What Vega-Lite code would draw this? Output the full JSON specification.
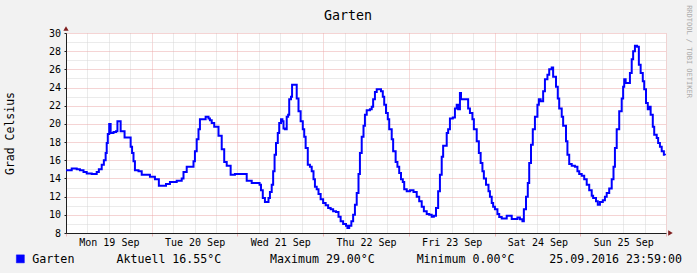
{
  "$schema": "https://vega.github.io/schema/vega-lite/v6.json",
  "width": 600,
  "height": 200,
  "autosize": {"type": "none"},
  "padding": {"left": 66, "top": 33, "right": 31, "bottom": 40},
  "background": "#f2f2f2",
  "view": {"stroke": null, "fill": "#ffffff"},
  "title": {"text": "Garten", "font": "DejaVu Sans Mono", "fontSize": 13.3, "fontWeight": "normal", "color": "#000000", "anchor": "middle", "frame": "group", "dx": -18, "offset": 0, "dy": 28.3, "baseline": "alphabetic"},
  "config": {
    "axis": {"labelFont": "DejaVu Sans Mono", "titleFont": "DejaVu Sans Mono", "labelColor": "#000000", "titleColor": "#000000", "titleFontWeight": "normal", "labelFlush": false, "labelOverlap": false}
  },
  "datasets": {
    "garten": [
      {"time": "2016-09-19T00:00", "temp": 14.9}, {"time": "2016-09-19T01:36", "temp": 15.1}, {"time": "2016-09-19T03:00", "temp": 15.0}, {"time": "2016-09-19T03:54", "temp": 14.9}, {"time": "2016-09-19T04:54", "temp": 14.7}, {"time": "2016-09-19T05:48", "temp": 14.55}, {"time": "2016-09-19T07:12", "temp": 14.5}, {"time": "2016-09-19T08:36", "temp": 14.7}, {"time": "2016-09-19T09:12", "temp": 15.0}, {"time": "2016-09-19T10:00", "temp": 15.5}, {"time": "2016-09-19T10:36", "temp": 16.0}, {"time": "2016-09-19T11:06", "temp": 16.8}, {"time": "2016-09-19T11:24", "temp": 17.9}, {"time": "2016-09-19T11:42", "temp": 18.9}, {"time": "2016-09-19T12:06", "temp": 20.0}, {"time": "2016-09-19T12:30", "temp": 19.0}, {"time": "2016-09-19T13:18", "temp": 19.1}, {"time": "2016-09-19T14:00", "temp": 19.2}, {"time": "2016-09-19T14:24", "temp": 20.3}, {"time": "2016-09-19T15:18", "temp": 19.2}, {"time": "2016-09-19T16:24", "temp": 18.5}, {"time": "2016-09-19T18:06", "temp": 17.5}, {"time": "2016-09-19T18:30", "temp": 16.8}, {"time": "2016-09-19T18:54", "temp": 15.9}, {"time": "2016-09-19T19:18", "temp": 14.9}, {"time": "2016-09-19T20:18", "temp": 14.8}, {"time": "2016-09-19T21:12", "temp": 14.4}, {"time": "2016-09-19T23:30", "temp": 14.2},
      {"time": "2016-09-20T00:54", "temp": 13.9}, {"time": "2016-09-20T02:00", "temp": 13.2}, {"time": "2016-09-20T04:00", "temp": 13.4}, {"time": "2016-09-20T05:06", "temp": 13.6}, {"time": "2016-09-20T07:00", "temp": 13.75}, {"time": "2016-09-20T08:24", "temp": 14.0}, {"time": "2016-09-20T08:54", "temp": 14.7}, {"time": "2016-09-20T09:48", "temp": 15.3}, {"time": "2016-09-20T11:42", "temp": 15.9}, {"time": "2016-09-20T12:06", "temp": 17.0}, {"time": "2016-09-20T12:36", "temp": 18.3}, {"time": "2016-09-20T13:06", "temp": 19.4}, {"time": "2016-09-20T13:30", "temp": 20.5}, {"time": "2016-09-20T15:06", "temp": 20.8}, {"time": "2016-09-20T15:54", "temp": 20.6}, {"time": "2016-09-20T16:18", "temp": 20.4}, {"time": "2016-09-20T16:48", "temp": 20.1}, {"time": "2016-09-20T17:30", "temp": 19.7}, {"time": "2016-09-20T18:42", "temp": 18.7}, {"time": "2016-09-20T19:36", "temp": 17.2}, {"time": "2016-09-20T20:18", "temp": 15.8}, {"time": "2016-09-20T21:00", "temp": 15.4}, {"time": "2016-09-20T22:06", "temp": 14.4}, {"time": "2016-09-20T23:18", "temp": 14.5},
      {"time": "2016-09-21T02:36", "temp": 13.75}, {"time": "2016-09-21T04:00", "temp": 13.5}, {"time": "2016-09-21T06:12", "temp": 13.3}, {"time": "2016-09-21T06:36", "temp": 12.7}, {"time": "2016-09-21T07:06", "temp": 11.85}, {"time": "2016-09-21T07:42", "temp": 11.4}, {"time": "2016-09-21T08:42", "temp": 11.85}, {"time": "2016-09-21T09:06", "temp": 12.5}, {"time": "2016-09-21T09:36", "temp": 13.3}, {"time": "2016-09-21T10:00", "temp": 14.8}, {"time": "2016-09-21T10:24", "temp": 16.6}, {"time": "2016-09-21T10:48", "temp": 17.9}, {"time": "2016-09-21T11:18", "temp": 19.0}, {"time": "2016-09-21T11:42", "temp": 20.1}, {"time": "2016-09-21T12:12", "temp": 20.5}, {"time": "2016-09-21T12:36", "temp": 20.3}, {"time": "2016-09-21T12:54", "temp": 19.5}, {"time": "2016-09-21T13:18", "temp": 19.4}, {"time": "2016-09-21T13:48", "temp": 20.8}, {"time": "2016-09-21T14:12", "temp": 21.0}, {"time": "2016-09-21T14:30", "temp": 22.7}, {"time": "2016-09-21T15:00", "temp": 23.0}, {"time": "2016-09-21T15:18", "temp": 24.3}, {"time": "2016-09-21T16:36", "temp": 22.8}, {"time": "2016-09-21T17:06", "temp": 21.4}, {"time": "2016-09-21T17:42", "temp": 20.3}, {"time": "2016-09-21T18:18", "temp": 19.4}, {"time": "2016-09-21T18:42", "temp": 18.6}, {"time": "2016-09-21T19:06", "temp": 17.35}, {"time": "2016-09-21T19:42", "temp": 15.5}, {"time": "2016-09-21T20:18", "temp": 15.3}, {"time": "2016-09-21T20:48", "temp": 14.8}, {"time": "2016-09-21T21:18", "temp": 13.9}, {"time": "2016-09-21T21:42", "temp": 13.1}, {"time": "2016-09-21T22:12", "temp": 12.8}, {"time": "2016-09-21T22:42", "temp": 12.3}, {"time": "2016-09-21T23:18", "temp": 11.7},
      {"time": "2016-09-22T00:00", "temp": 11.3}, {"time": "2016-09-22T00:42", "temp": 11.05}, {"time": "2016-09-22T01:24", "temp": 10.75}, {"time": "2016-09-22T02:06", "temp": 10.6}, {"time": "2016-09-22T02:48", "temp": 10.4}, {"time": "2016-09-22T03:36", "temp": 10.3}, {"time": "2016-09-22T04:18", "temp": 9.8}, {"time": "2016-09-22T04:54", "temp": 9.3}, {"time": "2016-09-22T05:36", "temp": 9.0}, {"time": "2016-09-22T06:24", "temp": 8.8}, {"time": "2016-09-22T06:48", "temp": 8.55}, {"time": "2016-09-22T07:18", "temp": 8.8}, {"time": "2016-09-22T07:54", "temp": 9.3}, {"time": "2016-09-22T08:24", "temp": 10.0}, {"time": "2016-09-22T08:54", "temp": 11.1}, {"time": "2016-09-22T09:24", "temp": 12.4}, {"time": "2016-09-22T09:54", "temp": 14.5}, {"time": "2016-09-22T10:18", "temp": 16.8}, {"time": "2016-09-22T10:48", "temp": 18.6}, {"time": "2016-09-22T11:18", "temp": 19.8}, {"time": "2016-09-22T11:42", "temp": 21.0}, {"time": "2016-09-22T12:12", "temp": 21.5}, {"time": "2016-09-22T13:06", "temp": 21.6}, {"time": "2016-09-22T13:36", "temp": 21.9}, {"time": "2016-09-22T14:00", "temp": 22.7}, {"time": "2016-09-22T14:30", "temp": 23.5}, {"time": "2016-09-22T15:00", "temp": 23.8}, {"time": "2016-09-22T16:12", "temp": 23.6}, {"time": "2016-09-22T16:42", "temp": 23.0}, {"time": "2016-09-22T17:06", "temp": 22.1}, {"time": "2016-09-22T17:36", "temp": 21.2}, {"time": "2016-09-22T18:06", "temp": 20.5}, {"time": "2016-09-22T18:30", "temp": 19.4}, {"time": "2016-09-22T19:12", "temp": 18.3}, {"time": "2016-09-22T19:36", "temp": 17.0}, {"time": "2016-09-22T20:18", "temp": 15.8}, {"time": "2016-09-22T20:48", "temp": 15.3}, {"time": "2016-09-22T21:18", "temp": 14.6}, {"time": "2016-09-22T21:48", "temp": 13.9}, {"time": "2016-09-22T22:18", "temp": 13.6}, {"time": "2016-09-22T22:42", "temp": 12.8}, {"time": "2016-09-22T23:24", "temp": 12.6},
      {"time": "2016-09-23T00:18", "temp": 12.7}, {"time": "2016-09-23T01:18", "temp": 12.5}, {"time": "2016-09-23T02:12", "temp": 12.0}, {"time": "2016-09-23T02:54", "temp": 11.5}, {"time": "2016-09-23T03:36", "temp": 10.9}, {"time": "2016-09-23T04:12", "temp": 10.4}, {"time": "2016-09-23T05:00", "temp": 10.1}, {"time": "2016-09-23T05:42", "temp": 10.0}, {"time": "2016-09-23T06:24", "temp": 9.8}, {"time": "2016-09-23T07:00", "temp": 9.9}, {"time": "2016-09-23T07:36", "temp": 10.75}, {"time": "2016-09-23T08:12", "temp": 12.6}, {"time": "2016-09-23T08:42", "temp": 14.4}, {"time": "2016-09-23T09:12", "temp": 16.4}, {"time": "2016-09-23T09:36", "temp": 17.6}, {"time": "2016-09-23T10:36", "temp": 19.0}, {"time": "2016-09-23T11:00", "temp": 19.4}, {"time": "2016-09-23T11:30", "temp": 20.6}, {"time": "2016-09-23T12:18", "temp": 20.7}, {"time": "2016-09-23T12:54", "temp": 21.7}, {"time": "2016-09-23T13:24", "temp": 22.1}, {"time": "2016-09-23T13:48", "temp": 21.6}, {"time": "2016-09-23T14:18", "temp": 23.4}, {"time": "2016-09-23T14:36", "temp": 22.7}, {"time": "2016-09-23T16:36", "temp": 21.7}, {"time": "2016-09-23T17:06", "temp": 21.2}, {"time": "2016-09-23T17:48", "temp": 20.5}, {"time": "2016-09-23T18:12", "temp": 19.4}, {"time": "2016-09-23T19:00", "temp": 18.1}, {"time": "2016-09-23T19:36", "temp": 16.8}, {"time": "2016-09-23T20:06", "temp": 15.7}, {"time": "2016-09-23T20:36", "temp": 14.8}, {"time": "2016-09-23T21:00", "temp": 14.0}, {"time": "2016-09-23T21:36", "temp": 13.3}, {"time": "2016-09-23T22:18", "temp": 12.6}, {"time": "2016-09-23T22:42", "temp": 12.0}, {"time": "2016-09-23T23:12", "temp": 11.3}, {"time": "2016-09-23T23:36", "temp": 10.9},
      {"time": "2016-09-24T00:06", "temp": 10.6}, {"time": "2016-09-24T00:48", "temp": 10.1}, {"time": "2016-09-24T01:18", "temp": 9.75}, {"time": "2016-09-24T02:00", "temp": 9.6}, {"time": "2016-09-24T03:24", "temp": 9.9}, {"time": "2016-09-24T04:48", "temp": 9.55}, {"time": "2016-09-24T06:24", "temp": 9.7}, {"time": "2016-09-24T07:06", "temp": 9.5}, {"time": "2016-09-24T07:48", "temp": 9.3}, {"time": "2016-09-24T08:12", "temp": 10.6}, {"time": "2016-09-24T08:48", "temp": 12.0}, {"time": "2016-09-24T09:18", "temp": 13.5}, {"time": "2016-09-24T09:42", "temp": 15.7}, {"time": "2016-09-24T10:12", "temp": 17.7}, {"time": "2016-09-24T10:42", "temp": 19.4}, {"time": "2016-09-24T11:18", "temp": 20.8}, {"time": "2016-09-24T12:00", "temp": 22.1}, {"time": "2016-09-24T12:24", "temp": 22.7}, {"time": "2016-09-24T12:54", "temp": 22.5}, {"time": "2016-09-24T13:36", "temp": 23.6}, {"time": "2016-09-24T14:06", "temp": 24.9}, {"time": "2016-09-24T14:48", "temp": 25.4}, {"time": "2016-09-24T15:18", "temp": 26.0}, {"time": "2016-09-24T16:00", "temp": 26.2}, {"time": "2016-09-24T16:24", "temp": 25.2}, {"time": "2016-09-24T17:12", "temp": 24.1}, {"time": "2016-09-24T17:42", "temp": 22.8}, {"time": "2016-09-24T18:06", "temp": 21.7}, {"time": "2016-09-24T18:48", "temp": 20.8}, {"time": "2016-09-24T19:12", "temp": 19.8}, {"time": "2016-09-24T20:00", "temp": 18.1}, {"time": "2016-09-24T20:24", "temp": 16.6}, {"time": "2016-09-24T20:54", "temp": 15.6}, {"time": "2016-09-24T21:36", "temp": 15.4}, {"time": "2016-09-24T22:30", "temp": 15.3}, {"time": "2016-09-24T23:12", "temp": 14.8}, {"time": "2016-09-24T23:42", "temp": 14.5},
      {"time": "2016-09-25T00:24", "temp": 14.3}, {"time": "2016-09-25T01:06", "temp": 13.9}, {"time": "2016-09-25T01:48", "temp": 13.3}, {"time": "2016-09-25T02:30", "temp": 12.7}, {"time": "2016-09-25T03:12", "temp": 12.1}, {"time": "2016-09-25T03:36", "temp": 11.85}, {"time": "2016-09-25T04:24", "temp": 11.5}, {"time": "2016-09-25T04:54", "temp": 11.1}, {"time": "2016-09-25T05:30", "temp": 11.4}, {"time": "2016-09-25T06:18", "temp": 11.6}, {"time": "2016-09-25T06:54", "temp": 12.0}, {"time": "2016-09-25T07:24", "temp": 12.4}, {"time": "2016-09-25T08:06", "temp": 12.9}, {"time": "2016-09-25T08:48", "temp": 13.9}, {"time": "2016-09-25T09:18", "temp": 15.3}, {"time": "2016-09-25T09:42", "temp": 17.35}, {"time": "2016-09-25T10:12", "temp": 19.4}, {"time": "2016-09-25T10:54", "temp": 21.4}, {"time": "2016-09-25T11:36", "temp": 22.8}, {"time": "2016-09-25T12:00", "temp": 24.1}, {"time": "2016-09-25T12:18", "temp": 24.9}, {"time": "2016-09-25T12:42", "temp": 24.5}, {"time": "2016-09-25T13:54", "temp": 25.6}, {"time": "2016-09-25T14:24", "temp": 27.1}, {"time": "2016-09-25T14:48", "temp": 28.0}, {"time": "2016-09-25T15:18", "temp": 28.6}, {"time": "2016-09-25T15:54", "temp": 28.5}, {"time": "2016-09-25T16:24", "temp": 26.5}, {"time": "2016-09-25T16:54", "temp": 25.6}, {"time": "2016-09-25T17:30", "temp": 24.7}, {"time": "2016-09-25T17:54", "temp": 23.8}, {"time": "2016-09-25T18:24", "temp": 22.3}, {"time": "2016-09-25T18:54", "temp": 21.6}, {"time": "2016-09-25T19:12", "temp": 21.9}, {"time": "2016-09-25T19:42", "temp": 21.0}, {"time": "2016-09-25T20:18", "temp": 19.7}, {"time": "2016-09-25T20:42", "temp": 18.8}, {"time": "2016-09-25T21:24", "temp": 18.45}, {"time": "2016-09-25T21:48", "temp": 17.9}, {"time": "2016-09-25T22:18", "temp": 17.5}, {"time": "2016-09-25T22:48", "temp": 17.0}, {"time": "2016-09-25T23:24", "temp": 16.6}, {"time": "2016-09-25T23:42", "temp": 16.55}
    ],
    "arrows": [
      {"time": "2016-09-19T00:00", "temp": 30.5, "dir": "up"},
      {"time": "2016-09-26T01:15", "temp": 8, "dir": "right"}
    ]
  },
  "layer": [
    {
      "data": {"name": "garten"},
      "mark": {"type": "line", "interpolate": "step-after", "strokeWidth": 2, "color": "#0000ff"},
      "encoding": {
        "x": {
          "field": "time", "type": "temporal",
          "scale": {"domain": [{"year": 2016, "month": 9, "date": 19}, {"year": 2016, "month": 9, "date": 26}], "nice": false},
          "axis": {
            "values": [
              {"year": 2016, "month": 9, "date": 19, "hours": 0}, {"year": 2016, "month": 9, "date": 19, "hours": 6}, {"year": 2016, "month": 9, "date": 19, "hours": 12}, {"year": 2016, "month": 9, "date": 19, "hours": 18},
              {"year": 2016, "month": 9, "date": 20, "hours": 0}, {"year": 2016, "month": 9, "date": 20, "hours": 6}, {"year": 2016, "month": 9, "date": 20, "hours": 12}, {"year": 2016, "month": 9, "date": 20, "hours": 18},
              {"year": 2016, "month": 9, "date": 21, "hours": 0}, {"year": 2016, "month": 9, "date": 21, "hours": 6}, {"year": 2016, "month": 9, "date": 21, "hours": 12}, {"year": 2016, "month": 9, "date": 21, "hours": 18},
              {"year": 2016, "month": 9, "date": 22, "hours": 0}, {"year": 2016, "month": 9, "date": 22, "hours": 6}, {"year": 2016, "month": 9, "date": 22, "hours": 12}, {"year": 2016, "month": 9, "date": 22, "hours": 18},
              {"year": 2016, "month": 9, "date": 23, "hours": 0}, {"year": 2016, "month": 9, "date": 23, "hours": 6}, {"year": 2016, "month": 9, "date": 23, "hours": 12}, {"year": 2016, "month": 9, "date": 23, "hours": 18},
              {"year": 2016, "month": 9, "date": 24, "hours": 0}, {"year": 2016, "month": 9, "date": 24, "hours": 6}, {"year": 2016, "month": 9, "date": 24, "hours": 12}, {"year": 2016, "month": 9, "date": 24, "hours": 18},
              {"year": 2016, "month": 9, "date": 25, "hours": 0}, {"year": 2016, "month": 9, "date": 25, "hours": 6}, {"year": 2016, "month": 9, "date": 25, "hours": 12}, {"year": 2016, "month": 9, "date": 25, "hours": 18},
              {"year": 2016, "month": 9, "date": 26, "hours": 0}
            ],
            "labelExpr": "hours(datum.value) === 12 ? timeFormat(datum.value, '%a %d %b') : ''",
            "labelFontSize": 10,
            "labelPadding": 1.5,
            "labelAlign": "center",
            "grid": true,
            "gridDash": [1, 1],
            "gridColor": {"condition": {"test": "hours(datum.value) === 0", "value": "#eeb4b4"}, "value": "#d6d6d6"},
            "ticks": true,
            "tickSize": 3,
            "tickColor": {"condition": {"test": "hours(datum.value) === 0", "value": "#eeb4b4"}, "value": "transparent"},
            "domainColor": "#1f1f1f",
            "title": "Aktuell 16.55°C\u00a0\u00a0\u00a0\u00a0\u00a0\u00a0\u00a0Maximum 29.00°C\u00a0\u00a0\u00a0\u00a0\u00a0\u00a0Minimum 0.00°C\u00a0\u00a0\u00a0\u00a0\u00a025.09.2016 23:59:00",
            "titleFontSize": 11.6,
            "titleX": 50,
            "titleY": 26,
            "titleAlign": "left",
            "titleBaseline": "middle",
            "titleAnchor": "start"
          }
        },
        "y": {
          "field": "temp", "type": "quantitative",
          "scale": {"domain": [8, 30], "nice": false, "zero": false},
          "axis": {
            "values": [8, 9, 10, 11, 12, 13, 14, 15, 16, 17, 18, 19, 20, 21, 22, 23, 24, 25, 26, 27, 28, 29, 30],
            "format": "d",
            "labelExpr": "datum.value % 2 === 0 ? datum.label : ''",
            "labelFontSize": 10,
            "labelPadding": 3.5,
            "grid": true,
            "gridDash": [1, 1],
            "gridColor": {"condition": {"test": "datum.value % 2 === 0", "value": "#eaa8a8"}, "value": "#d6d6d6"},
            "ticks": true,
            "tickSize": 2,
            "tickColor": {"condition": {"test": "datum.value % 2 === 0", "value": "#1f1f1f"}, "value": "transparent"},
            "domainColor": "#1f1f1f",
            "title": "Grad Celsius",
            "titleFontSize": 11.5,
            "titleX": -56,
            "titleY": 100,
            "titleAlign": "center",
            "titleBaseline": "middle"
          }
        },
        "color": {
          "datum": "Garten", "type": "nominal",
          "scale": {"range": ["#0000ff"]},
          "legend": {
            "orient": "none", "legendX": -51.5, "legendY": 220, "title": null,
            "symbolType": "square", "symbolSize": 64, "symbolFillColor": "#0000ff", "symbolStrokeColor": "#000000", "symbolStrokeWidth": 0.5,
            "labelFont": "DejaVu Sans Mono", "labelFontSize": 11.7, "labelColor": "#000000", "labelOffset": 6, "padding": 0
          }
        }
      }
    },
    {
      "data": {"name": "arrows"},
      "mark": {"type": "point", "filled": true, "color": "#801f1f", "size": 28, "opacity": 1, "clip": false},
      "encoding": {
        "x": {"field": "time", "type": "temporal", "axis": null},
        "y": {
          "field": "temp", "type": "quantitative",
          "axis": {
            "orient": "right", "labels": false, "ticks": false, "domain": false, "grid": false,
            "title": "RRDTOOL / TOBI OETIKER", "titleAngle": 90, "titleX": 22, "titleY": 18,
            "titleAlign": "center", "titleBaseline": "middle", "titleFontSize": 7, "titleColor": "#aaaaaa"
          }
        },
        "shape": {"field": "dir", "type": "nominal", "scale": {"domain": ["up", "right"], "range": ["triangle-up", "triangle-right"]}, "legend": null}
      }
    }
  ],
  "resolve": {"axis": {"x": "independent", "y": "independent"}}
}
